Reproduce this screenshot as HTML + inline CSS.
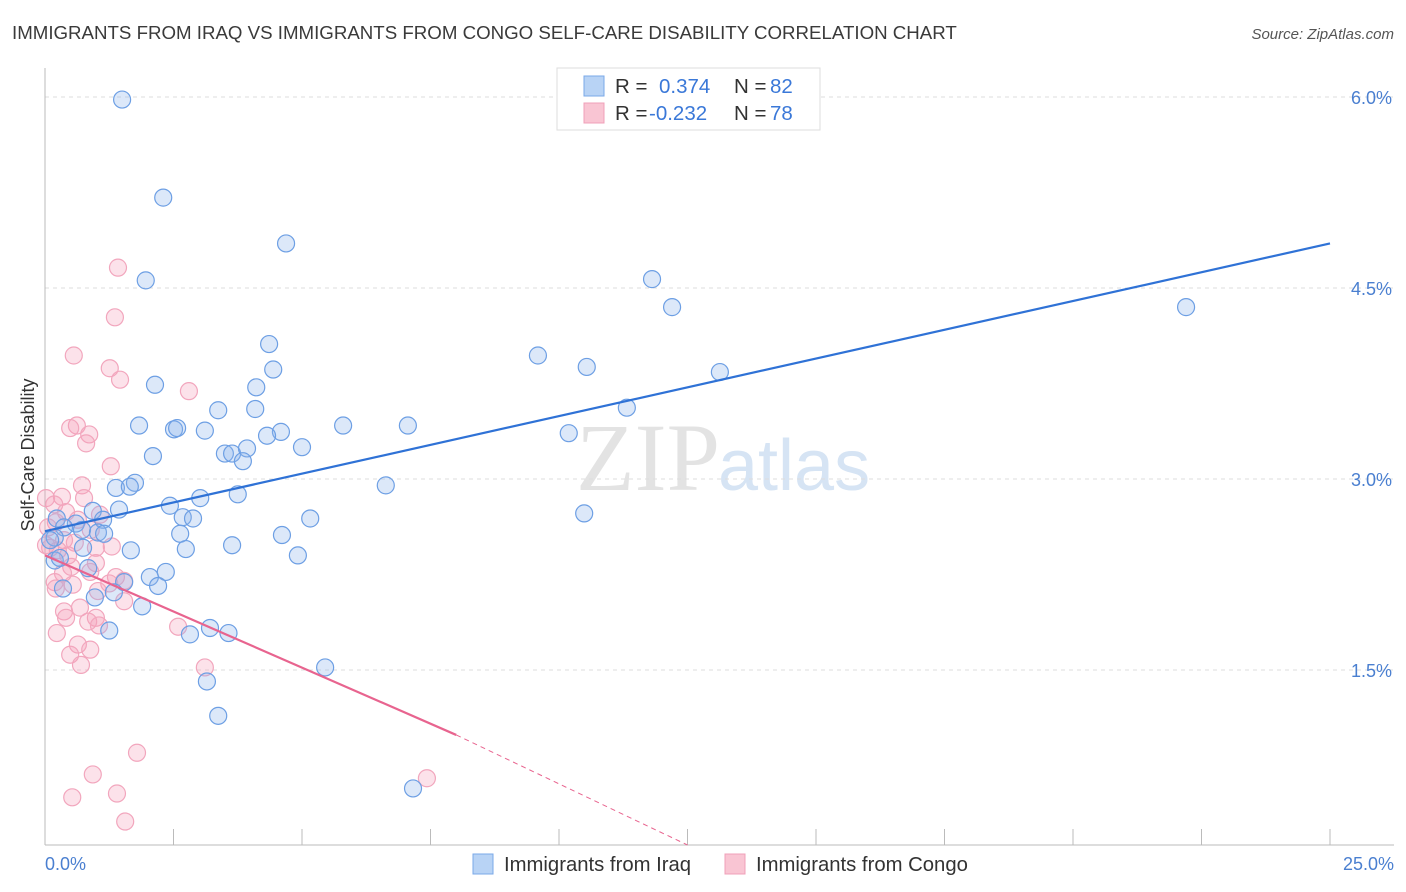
<!DOCTYPE html>
<html><head><meta charset="utf-8"><style>
body{margin:0;background:#fff;font-family:"Liberation Sans",sans-serif}
svg{display:block}
</style></head><body>
<svg id="c" width="1406" height="892">
<text x="12" y="39" font-size="18.7" fill="#3a3a3a">IMMIGRANTS FROM IRAQ VS IMMIGRANTS FROM CONGO SELF-CARE DISABILITY CORRELATION CHART</text>
<text x="1394" y="39" font-size="15" fill="#555" text-anchor="end" font-style="italic">Source: ZipAtlas.com</text>
<text x="720" y="490" font-size="96" fill="#e3e3e3" text-anchor="end" font-family="Liberation Serif,serif">ZIP</text>
<text x="718" y="490" font-size="72" fill="#d6e4f4">atlas</text>
<g id="grid"></g>
<g id="pts"></g>
<g id="lines"></g>
<text transform="translate(34,455) rotate(-90)" font-size="18" fill="#333" text-anchor="middle">Self-Care Disability</text>
<text x="45" y="870" font-size="18" fill="#4a7fd0">0.0%</text>
<text x="1394" y="870" font-size="18" fill="#4a7fd0" text-anchor="end">25.0%</text>
<g>
<rect x="557" y="68" width="263" height="62" fill="#fff" stroke="#ddd"/>
<rect x="584" y="76" width="20" height="20" fill="#b8d3f5" stroke="#7aa8e8"/>
<rect x="584" y="103" width="20" height="20" fill="#f9c5d3" stroke="#f0a0b8"/>
<text x="615" y="93" font-size="20.5" fill="#333">R =</text><text x="659" y="93" font-size="20.5" fill="#3a78d8">0.374</text>
<text x="734" y="93" font-size="20.5" fill="#333">N =</text><text x="770" y="93" font-size="20.5" fill="#3a78d8">82</text>
<text x="615" y="120" font-size="20.5" fill="#333">R =</text><text x="649" y="120" font-size="20.5" fill="#3a78d8">-0.232</text>
<text x="734" y="120" font-size="20.5" fill="#333">N =</text><text x="770" y="120" font-size="20.5" fill="#3a78d8">78</text>
</g>
<g>
<rect x="473" y="854" width="20" height="20" fill="#b8d3f5" stroke="#7aa8e8"/>
<text x="504" y="871" font-size="20.3" fill="#333">Immigrants from Iraq</text>
<rect x="725" y="854" width="20" height="20" fill="#f9c5d3" stroke="#f0a0b8"/>
<text x="756" y="871" font-size="20.3" fill="#333">Immigrants from Congo</text>
</g>
</svg>
<script>
const yTicks=[1.5,3.0,4.5,6.0];
const xTicks=[0,2.5,5,7.5,10,12.5,15,17.5,20,22.5,25];
const iraqX=[1.50,2.30,4.69,1.96,11.81,12.20,22.20,4.36,9.59,10.54,4.44,13.13,2.14,4.11,3.37,4.09,11.32,1.83,2.51,2.57,3.11,5.80,7.06,4.59,4.32,10.19,5.00,3.50,3.64,3.93,2.10,3.85,6.63,1.75,1.38,1.65,3.75,3.02,2.43,1.44,0.93,10.49,2.68,2.88,5.16,0.23,1.13,0.60,0.72,0.37,1.03,1.15,2.63,4.61,0.19,3.64,0.74,2.74,1.67,4.92,0.19,0.29,0.84,2.35,2.04,1.54,2.20,1.34,0.35,0.97,1.89,1.25,2.82,3.21,3.57,5.45,3.15,3.37,7.16,0.10];
const iraqY=[5.98,5.21,4.85,4.56,4.57,4.35,4.35,4.06,3.97,3.88,3.86,3.84,3.74,3.72,3.54,3.55,3.56,3.42,3.39,3.40,3.38,3.42,3.42,3.37,3.34,3.36,3.25,3.20,3.20,3.24,3.18,3.14,2.95,2.97,2.93,2.94,2.88,2.85,2.79,2.76,2.75,2.73,2.70,2.69,2.69,2.69,2.68,2.65,2.60,2.62,2.58,2.57,2.57,2.56,2.54,2.48,2.46,2.45,2.44,2.40,2.36,2.38,2.30,2.27,2.23,2.19,2.16,2.11,2.14,2.07,2.00,1.81,1.78,1.83,1.79,1.52,1.41,1.14,0.57,2.52];
const congoX=[1.42,1.36,0.56,1.26,1.46,2.80,0.62,0.49,0.86,0.80,1.28,0.72,0.33,0.02,0.18,0.76,0.41,1.07,0.64,0.21,0.06,0.89,0.37,0.10,1.30,0.58,0.99,0.25,0.45,0.02,0.99,0.51,0.35,0.19,0.88,1.38,1.54,1.25,0.54,1.03,0.21,1.54,0.68,0.37,0.41,0.99,0.84,0.23,1.05,2.59,0.64,0.88,0.49,0.70,3.11,1.79,0.93,7.43,0.53,1.40,1.56];
const congoY=[4.66,4.27,3.97,3.87,3.78,3.69,3.42,3.40,3.35,3.28,3.10,2.95,2.86,2.85,2.80,2.85,2.74,2.72,2.68,2.66,2.62,2.60,2.52,2.46,2.47,2.50,2.46,2.44,2.40,2.48,2.34,2.31,2.26,2.19,2.27,2.23,2.20,2.18,2.17,2.12,2.14,2.04,1.99,1.96,1.91,1.91,1.88,1.79,1.85,1.84,1.70,1.66,1.62,1.54,1.52,0.85,0.68,0.65,0.50,0.53,0.31];
const iraqTrend=[2.59,4.85];
const congoTrend=[2.40,0.99];
const NS='http://www.w3.org/2000/svg';
const X=v=>45+v*51.4, Y=v=>861-v*127.33;
function mk(t,a,p){const e=document.createElementNS(NS,t);for(const k in a)e.setAttribute(k,a[k]);p.appendChild(e);return e;}
const grid=document.getElementById('grid');
yTicks.forEach(t=>{
 const l=mk('line',{x1:45,x2:1394,y1:Y(t),y2:Y(t),stroke:'#ddd','stroke-dasharray':'4,4'},grid);
 
 
 const tx=mk('text',{x:1392,y:Y(t)+7,'font-size':18,fill:'#4a7fd0','text-anchor':'end'},grid);
 tx.textContent=t.toFixed(1)+'%';
 
 
});
const ax=mk('line',{x1:45,x2:45,y1:68,y2:845,stroke:'#bbb'},grid);


const bx=mk('line',{x1:45,x2:1394,y1:845,y2:845,stroke:'#bbb'},grid);


xTicks.forEach(t=>{
 const l=mk('line',{x1:X(t),x2:X(t),y1:829,y2:845,stroke:'#bbb'},grid);
 
 
});
const pts=document.getElementById('pts');
congoX.forEach((v,i)=>{
 const c=mk('circle',{cx:X(v),cy:Y(congoY[i]),r:8.5,fill:'rgba(244,160,185,0.3)',stroke:'#f2a6bd','stroke-width':1.2},pts);
 
 
});
iraqX.forEach((v,i)=>{
 const c=mk('circle',{cx:X(v),cy:Y(iraqY[i]),r:8.5,fill:'rgba(140,180,235,0.3)',stroke:'#6d9fe4','stroke-width':1.2},pts);
 
 
});
const lines=document.getElementById('lines');
const bl=mk('line',{x1:X(0),y1:Y(iraqTrend[0]),x2:X(25),y2:Y(iraqTrend[1]),stroke:'#2f72d6','stroke-width':2.2},lines);


const pl=mk('line',{x1:X(0),y1:Y(congoTrend[0]),x2:X(8),y2:Y(congoTrend[1]),stroke:'#e8648f','stroke-width':2.2},lines);


const pd=mk('line',{x1:X(8),y1:Y(congoTrend[1]),x2:X(12.5),y2:845,stroke:'#e8648f','stroke-width':1,'stroke-dasharray':'5,4'},lines);


</script>
</body></html>
